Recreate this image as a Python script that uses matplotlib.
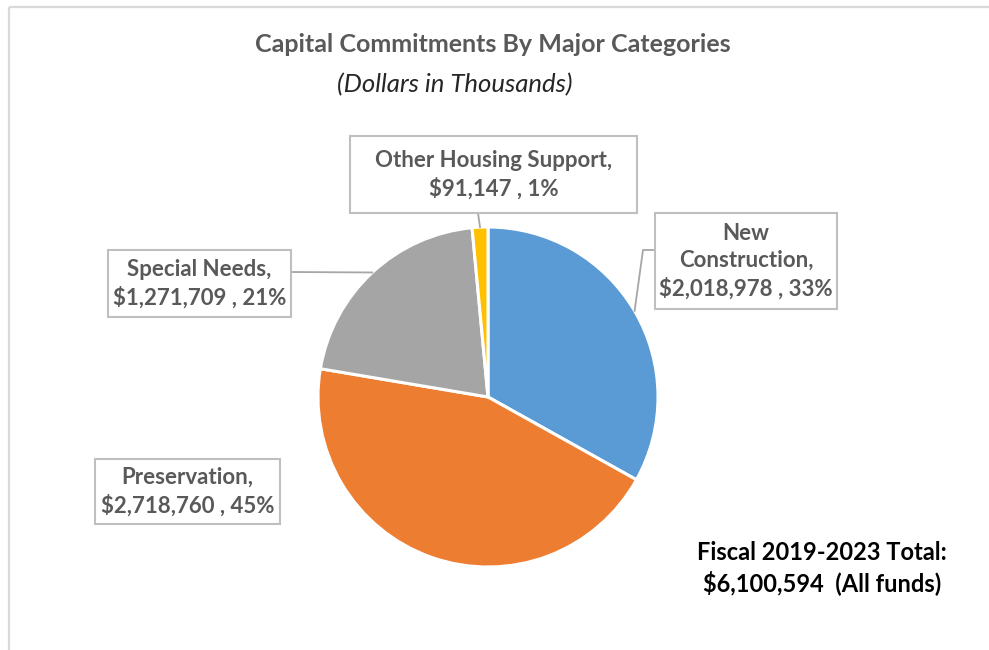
"""Capital Commitments By Major Categories - pie chart"""
import numpy as np, matplotlib
matplotlib.use('Agg')
import matplotlib.pyplot as plt
from matplotlib.patches import Rectangle

plt.rcParams.update({'font.family': ['Lato', 'DejaVu Sans']})

categories = ['New Construction', 'Preservation', 'Special Needs', 'Other Housing Support']
values = [2018978, 2718760, 1271709, 91147]
colors = ['#5B9BD5', '#ED7D31', '#A5A5A5', '#FFC000']
total = sum(values)

W, H = 989, 650
GREY = '#595959'
fig = plt.figure(figsize=(W/100, H/100), dpi=100, facecolor='white')
ax = fig.add_axes([0, 0, 1, 1])
ax.set_xlim(0, W); ax.set_ylim(0, H); ax.set_aspect('equal'); ax.axis('off')
Y = lambda y: H - y   # pixel rows -> data y

# chart frame (clipped on right/bottom like the source)
ax.plot([8.5, W + 5], [Y(6.5), Y(6.5)], color='#D9D9D9', lw=1.6, solid_capstyle='butt')
ax.plot([8.5, 8.5], [Y(6.5), -5], color='#D9D9D9', lw=1.6, solid_capstyle='butt')

cx, cy, R = 488, Y(397), 170
wedges, _ = ax.pie(values, colors=colors, startangle=90, counterclock=False,
                   center=(cx, cy), radius=R, frame=True,
                   wedgeprops=dict(edgecolor='white', linewidth=2.2))
ax.set_xlim(0, W); ax.set_ylim(0, H); ax.axis('off')

ax.text(493, Y(45), 'Capital Commitments By Major Categories', ha='center', va='center',
        fontsize=18, fontweight='bold', color=GREY)
ax.text(455, Y(85), '(Dollars in Thousands)', ha='center', va='center',
        fontsize=18.5, fontstyle='italic', color='#262626')

def label(i, name_lines, box, leader=None):
    x0, y0, x1, y1 = box
    ax.add_patch(Rectangle((x0, Y(y1)), x1 - x0, y1 - y0, fill=True, facecolor='white',
                           edgecolor='#BFBFBF', lw=1.5, zorder=3))
    pct = round(values[i] / total * 100)
    txt = name_lines + f"\n${values[i]:,} , {pct}%"
    ax.text((x0 + x1) / 2, Y((y0 + y1) / 2), txt, ha='center', va='center',
            fontsize=16, fontweight='bold', color=GREY, linespacing=1.35, zorder=4)
    if leader is not None:
        w = wedges[i]
        mid = np.deg2rad((w.theta1 + w.theta2) / 2)
        ex, ey = cx + R * np.cos(mid), cy + R * np.sin(mid)
        pts = [(px, Y(py)) for px, py in leader] + [(ex, ey)]
        xs, ys = zip(*pts)
        ax.plot(xs, ys, color='#A6A6A6', lw=1.3, zorder=2)

label(0, 'New\nConstruction,', (655, 213, 837, 309), leader=[(655, 250), (643, 250)])
label(1, 'Preservation,', (95, 459, 280, 524))
label(2, 'Special Needs,', (108, 250, 291, 317), leader=[(291, 272)])
label(3, 'Other Housing Support,', (350, 136, 637, 213), leader=[(478, 213)])

ax.text(822, Y(568), f"Fiscal 2019-2023 Total:\n${total:,}  (All funds)", ha='center', va='center',
        fontsize=17, fontweight='bold', color='black', linespacing=1.25)

fig.savefig('out.png', dpi=100, facecolor='white')
